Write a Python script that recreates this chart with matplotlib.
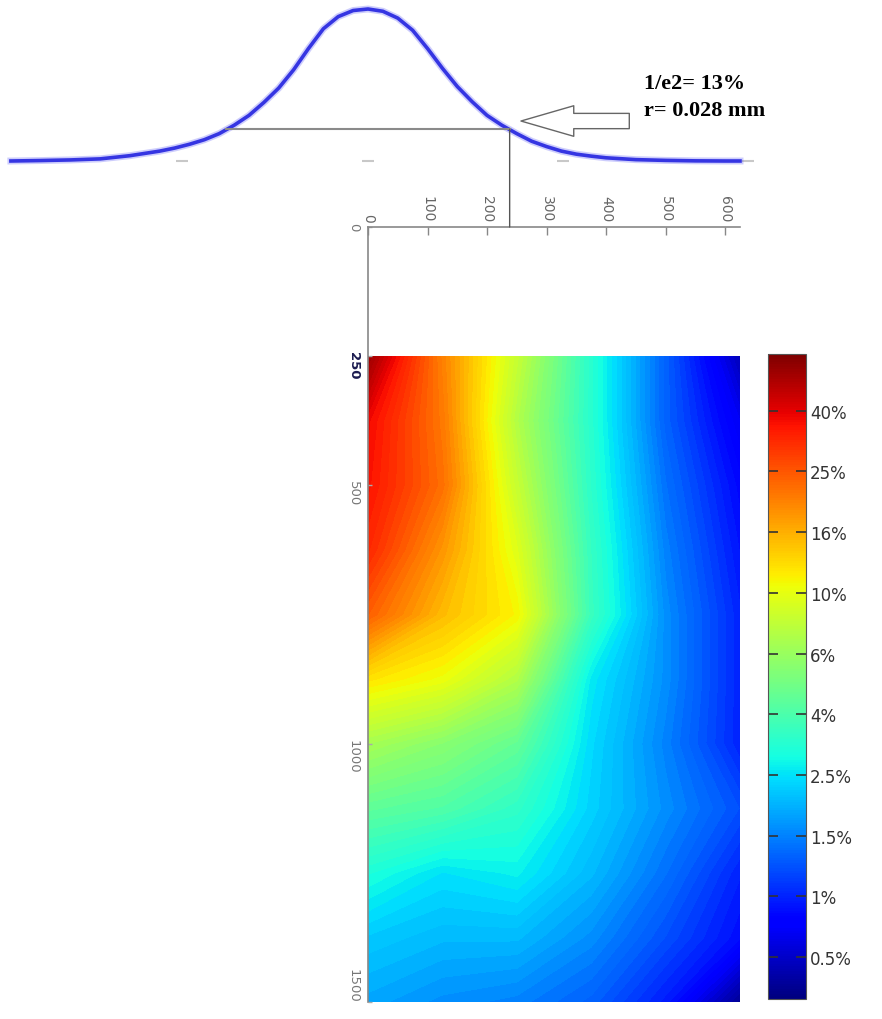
import numpy as np
import matplotlib.pyplot as plt
from matplotlib.patches import ConnectionPatch
from matplotlib.transforms import ScaledTranslation


# beam profile (relative intensity)
PROFILE_R = [-600, -550, -500, -450, -400, -375, -350, -325, -300, -275,
             -250, -225, -200, -175, -150, -125, -100, -75, -50, -25,
             0, 25, 50, 75, 100, 125, 150, 175, 200, 225,
             250, 275, 300, 325, 350, 375, 400, 450, 500, 550, 600, 625]
PROFILE_H = [0.0, 0.003, 0.007, 0.014, 0.035, 0.05, 0.065, 0.085, 0.11, 0.14,
             0.18, 0.235, 0.30, 0.385, 0.48, 0.60, 0.74, 0.87, 0.95, 0.99,
             1.0, 0.985, 0.94, 0.86, 0.74, 0.61, 0.49, 0.39, 0.30, 0.235,
             0.18, 0.13, 0.095, 0.065, 0.045, 0.032, 0.021, 0.009, 0.004, 0.001, 0.0, 0.0]
PROFILE_TICKS = [-313, 0, 328, 639]

R_MARK = 238
H_MARK = 0.21
ARROW_TIP = (257, 0.263)
ARROW_TAIL = (439, 0.263)
NOTE = "1/e2= 13%\nr= 0.028 mm"

# dose map (%), rows = depth, columns = radius
HEAT_X = [0, 125, 250, 375, 500, 625]
HEAT_Y = [250, 375, 500, 625, 750, 875, 1000, 1125, 1250, 1375, 1500]
HEAT_PCT = [
    [55, 20, 8.0, 3.2, 1.3, 0.45],
    [38, 21, 7.0, 3.2, 1.3, 0.65],
    [36, 22, 8.0, 3.3, 1.4, 0.8],
    [32, 18, 9.5, 3.5, 1.5, 0.9],
    [24, 15, 11, 3.6, 1.6, 1.0],
    [12, 10.3, 7.0, 2.6, 1.6, 1.0],
    [6.5, 5.5, 4.5, 2.4, 1.5, 1.0],
    [4.4, 4.1, 3.4, 2.3, 1.6, 1.2],
    [3.0, 2.5, 2.7, 2.0, 1.4, 1.0],
    [2.2, 2.0, 2.0, 1.6, 1.2, 0.85],
    [1.8, 1.6, 1.5, 1.3, 0.95, 0.35],
]

CB_PCT = [0.5, 1, 1.5, 2.5, 4, 6, 10, 16, 25, 40]
CB_LABELS = ["0.5%", "1%", "1.5%", "2.5%", "4%", "6%", "10%", "16%", "25%", "40%"]
CB_LOW = 0.31
CB_HIGH = 62

X_TICKS = [0, 100, 200, 300, 400, 500, 600]
Y_TICKS = [0, 250, 500, 1000, 1500]


# colour scale: tick values equally spaced, log in between
lo = -np.log(CB_PCT[0] / CB_LOW) / np.log(CB_PCT[1] / CB_PCT[0])
hi = len(CB_PCT) - 1 + np.log(CB_HIGH / CB_PCT[-1]) / np.log(CB_PCT[-1] / CB_PCT[-2])
cb_log = np.log([CB_LOW] + CB_PCT + [CB_HIGH])
cb_idx = np.concatenate([[lo], np.arange(len(CB_PCT)), [hi]])


def to_index(v):
    return np.interp(np.log(v), cb_log, cb_idx)


W, H = 882, 1020
fig = plt.figure(figsize=(W / 100, H / 100), dpi=100)

# main map
ax = fig.add_axes([368 / W, (H - 1003) / H, 372 / W, 775 / H])
Z = to_index(np.array(HEAT_PCT))
ax.contourf(HEAT_X, HEAT_Y, Z, levels=np.linspace(lo, hi, 90),
            cmap="jet", vmin=lo, vmax=hi, extend="both")
ax.set_xlim(0, 625)
ax.set_ylim(1500, 0)

ax.xaxis.tick_top()
ax.set_xticks(X_TICKS)
ax.set_xticklabels([str(t) for t in X_TICKS], rotation=-90, fontsize=10, color="#666")
ax.tick_params(axis="x", direction="in", length=6, width=1, color="#888", pad=4)
ax.set_yticks(Y_TICKS)
ax.set_yticklabels([str(t) for t in Y_TICKS], rotation=-90, fontsize=9.5, color="#777")
ax.tick_params(axis="y", direction="in", length=3, width=1, color="#aaa", pad=6)
for lab in ax.get_yticklabels():
    if lab.get_text() == "250":
        lab.set_fontweight("bold")
        lab.set_color("#1c1c50")
    if lab.get_text() == "1500":
        # keep the last label inside the picture
        lab.set_va("bottom")

for side in ["right", "bottom"]:
    ax.spines[side].set_visible(False)
for side in ["top", "left"]:
    ax.spines[side].set_color("#888")
    ax.spines[side].set_linewidth(1.2)

# beam profile on the same radial scale
ppu = 372 / 625
axp = fig.add_axes([0, (H - 175) / H, 1, 175 / H])
axp.set_xlim(-368 / ppu, (W - 368) / ppu)
axp.set_ylim(-13 / 152, 162 / 152)
axp.axis("off")

axp.plot(PROFILE_TICKS, [0] * len(PROFILE_TICKS), ls="none", marker="_",
         ms=8, mew=1.5, color="#c8c8c8")
axp.plot(PROFILE_R, PROFILE_H, color="#3a3af5", lw=5, alpha=0.25)
axp.plot(PROFILE_R, PROFILE_H, color="#2424e0", lw=2.6, alpha=0.9)
axp.plot([-R_MARK, R_MARK], [H_MARK, H_MARK], color="#8a8a8a", lw=1.5)

con = ConnectionPatch(xyA=(R_MARK, H_MARK), coordsA=axp.transData,
                      xyB=(R_MARK, 0), coordsB=ax.transData,
                      color="#555", lw=1)
fig.add_artist(con)

axp.annotate("", xy=ARROW_TIP, xytext=ARROW_TAIL,
             arrowprops=dict(arrowstyle="simple,head_length=3.8,head_width=2.2,tail_width=1.1",
                             fc="white", ec="#666", lw=1, shrinkA=0, shrinkB=0,
                             mutation_scale=10))

fig.text(644 / W, 1 - 74 / H, NOTE, fontfamily="Liberation Serif",
         fontweight="bold", fontsize=16, va="top", ha="left", linespacing=1.45)

# colour bar
cax = fig.add_axes([768 / W, (H - 1000) / H, 38 / W, 645 / H])
sm = plt.cm.ScalarMappable(norm=plt.Normalize(lo, hi), cmap="jet")
cb = fig.colorbar(sm, cax=cax, ticks=to_index(np.array(CB_PCT)))
cb.ax.set_yticklabels(CB_LABELS, fontsize=12, color="#333")
cb.ax.tick_params(direction="in", length=7, width=1.2, color="#333",
                  left=True, right=True, pad=3)
cb.outline.set_edgecolor("#555")
cb.outline.set_linewidth(0.8)

fig.savefig("out.png", dpi=100)
